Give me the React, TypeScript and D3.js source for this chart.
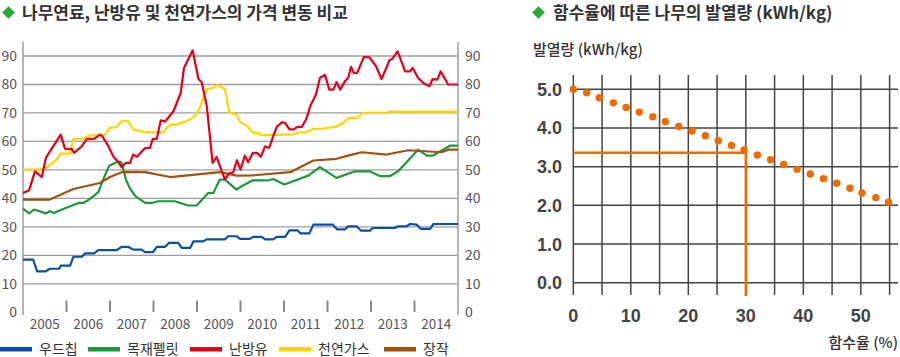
import React from "react";
import * as d3 from "d3";

// ---- Left chart data (x = months since Jan 2005) ----
const yearLabels = ["2005", "2006", "2007", "2008", "2009", "2010", "2011", "2012", "2013", "2014"];
const leftTicks = [0, 10, 20, 30, 40, 50, 60, 70, 80, 90];
const gridTicks = [10, 20, 30, 40, 50, 60, 70, 80, 90];

const woodChipX = [0, 2.8, 3.9, 6.3, 7.4, 10, 10.4, 13, 13.9, 16.2, 17.2, 19.6, 20.8, 25.8, 27.2, 29, 30.4, 32.7, 33.7, 35.9, 36.9, 39.2, 40.3, 42.8, 43.8, 46.1, 47, 49.7, 50.7, 55.7, 56.6, 59, 59.9, 62.6, 63.5, 65.8, 66.8, 69, 70, 72.3, 73.5, 75.7, 76.6, 79, 80.1, 85.4, 86.7, 88.8, 89.7, 92, 93.2, 95.7, 96.5, 102.6, 103.5, 105.8, 106.8, 108.6, 109.7, 112.3, 113.2, 120];
const woodChipY = [18.5, 18.5, 14.4, 14.4, 15.3, 15.3, 16.4, 16.4, 19.5, 19.5, 20.7, 20.7, 21.8, 21.8, 23, 23, 22, 22, 21.1, 21.1, 23, 23, 24.4, 24.4, 22.6, 22.6, 24.9, 24.9, 25.6, 25.6, 26.7, 26.7, 25.8, 25.8, 26.5, 26.5, 25.6, 25.6, 26.5, 26.5, 28.8, 28.8, 27.7, 27.7, 30.8, 30.8, 29.1, 29.1, 30.2, 30.2, 28.7, 28.7, 29.6, 29.6, 30.2, 30.2, 31, 30.8, 29.3, 29.3, 31, 31];

const pelletX = [0, 1.7, 3, 4.6, 6.3, 7.4, 8.5, 11.1, 15.3, 16.6, 18.5, 20.8, 22.1, 23.8, 25.8, 26.7, 27.2, 28.4, 29.5, 31, 33.7, 35.5, 37.3, 41.9, 45.6, 47.9, 51.1, 52.5, 54.3, 55.7, 58.9, 61.2, 63.3, 67.5, 69, 72.1, 78.7, 81.9, 86.5, 91.6, 95.7, 98.5, 101.1, 103.5, 109, 111.4, 113, 117.8, 120];
const pelletY = [36.4, 34.7, 36.1, 35.5, 34.7, 35.5, 34.9, 36.3, 38.4, 38.4, 39.8, 42.2, 46.6, 51.5, 52.7, 52.9, 52.5, 46.6, 43.5, 40.8, 38.4, 38.4, 39, 39, 37.5, 37.5, 41.9, 41.9, 46.6, 46.6, 43.1, 44.9, 46.3, 46.3, 46.8, 44.9, 48, 51, 47.2, 49.5, 49.5, 47.8, 47.8, 49.5, 57.1, 55, 55, 58.5, 58.5];

const oilX = [0, 1.7, 3.3, 5.2, 6.3, 10.4, 11.6, 13.4, 14.1, 16.2, 17.6, 19.6, 21.2, 21.9, 23.3, 24.9, 26.3, 27.2, 28.4, 29.5, 30.4, 31.4, 33.7, 35, 35.8, 36.9, 38, 39.2, 41.5, 43.5, 44.4, 46.8, 48.4, 49.3, 50.7, 52.3, 53.4, 55.7, 56.9, 58, 59, 60, 61.2, 62.1, 63.4, 64.5, 65.6, 66.8, 67.9, 69, 70, 71.4, 72.3, 73.5, 74.6, 75.7, 76.9, 78.1, 79.4, 80.8, 81.9, 83.3, 84.5, 85.6, 86.5, 87.5, 88.8, 89.7, 90.5, 91.2, 92.2, 94, 95.5, 97.4, 98.9, 101.1, 101.9, 103.3, 104.2, 105.4, 106.8, 107.5, 109, 110.4, 112.1, 113, 114.3, 115.2, 117.3, 120];
const oilY = [41.9, 42.9, 49.5, 47.5, 54.2, 62.4, 57.4, 57.4, 56, 58.3, 60.9, 60.9, 62.4, 61.8, 58.9, 54.8, 52.7, 51, 52.5, 52.5, 55.4, 54.6, 57.7, 57.7, 60.9, 60.9, 67.4, 67, 70.6, 77, 85.8, 92, 81.9, 80.8, 72.4, 52.5, 54.6, 46.6, 48.9, 49.1, 53.4, 50.1, 55, 52.7, 56, 56, 54.6, 58.3, 57.7, 61.8, 65.1, 66.7, 66.5, 64.2, 64.2, 65.1, 65.1, 67.7, 72.9, 76.4, 82.3, 83.4, 78.2, 78.2, 80.8, 78.2, 81.1, 82.3, 86.2, 84.1, 84.1, 89.6, 89.6, 86.4, 81.9, 88.5, 89, 91.6, 88.7, 84.6, 84.6, 85.8, 82.3, 80.5, 79.4, 81.9, 81.7, 84.6, 80, 80];

const gasX = [0, 4.6, 6.5, 7.9, 9.3, 10.4, 13, 13.9, 16.2, 18, 18.9, 22.6, 23.8, 25.8, 27.2, 29, 30.4, 31.4, 34.1, 38.7, 40.6, 42.4, 44.2, 46.1, 47.5, 48.8, 49.9, 50.8, 52.5, 53.6, 55.7, 56.9, 58.9, 59.9, 61.7, 63.5, 64.9, 65.8, 69, 74.6, 76.4, 78.3, 80.1, 82.9, 86.5, 88.3, 90, 92.2, 93.7, 100.3, 101.1, 120];
const gasY = [50.1, 50.1, 50.9, 52.2, 53.6, 55.7, 55.7, 60.9, 60.9, 61.8, 62.2, 62.2, 64.7, 65.1, 67.1, 67.1, 64.2, 63.9, 63.2, 63.2, 65.9, 65.9, 66.7, 67.7, 69.1, 71.8, 75.9, 78.4, 78.8, 79.9, 78.4, 70.2, 69.4, 66.8, 65.6, 63, 62.8, 62.1, 62.3, 62.5, 63.2, 63.3, 64.4, 64.5, 65.3, 66.5, 68.3, 68.3, 70, 70, 70.5, 70.5];

const firewoodX = [0, 7.4, 13.9, 21.2, 24, 27.2, 30.9, 33.7, 40.6, 54.3, 58.9, 63.5, 73.7, 80.1, 86.5, 90.2, 93.4, 100.3, 106.3, 115.5, 117.3, 120];
const firewoodY = [39.6, 39.6, 43.3, 45.4, 47.5, 49.2, 49.3, 49.2, 47.5, 49.2, 48, 48.1, 49.2, 53.3, 53.9, 55.2, 56.2, 55.4, 56.9, 56.2, 57.1, 57.1];

const seriesNames = ["우드칩", "목재펠릿", "난방유", "천연가스", "장작"];
const seriesColors = ["#0b4ea2", "#1e9639", "#e3001b", "#ffd400", "#a0500f"];

// ---- Right chart data ----
const moistureX = [0, 2.33, 4.52, 6.96, 9.17, 11.48, 13.81, 16.0, 18.33, 20.64, 22.96, 25.2, 27.5, 29.7, 32.0, 34.3, 36.6, 38.9, 41.2, 43.5, 45.8, 48.1, 50.2, 52.6, 54.8];
const heatY = [5.0, 4.91, 4.78, 4.65, 4.53, 4.41, 4.29, 4.16, 4.04, 3.92, 3.8, 3.67, 3.55, 3.43, 3.3, 3.18, 3.06, 2.93, 2.81, 2.69, 2.57, 2.44, 2.32, 2.2, 2.08];
const rightYTicks = [0, 1, 2, 3, 4, 5];
const rightXGrid = [0, 5, 10, 15, 20, 25, 30, 35, 40, 45, 50, 55];
const rightXLabels = [0, 10, 20, 30, 40, 50];
const refMoisture = 30;
const refHeat = 3.36;

const FONT = "'Noto Sans CJK KR', 'Noto Sans', sans-serif";
const NUMFONT = "'Liberation Sans', Arial, sans-serif";

export default function App() {
  const x = d3.scaleLinear().domain([0, 120]).range([23, 458]);
  const y = d3.scaleLinear().domain([0, 90]).range([312.3, 56]);

  const xr = d3.scaleLinear().domain([0, 55]).range([573.3, 889.6]);
  const yr = d3.scaleLinear().domain([0, 5]).range([282.7, 89.3]);

  const allSeries = [
    [woodChipX, woodChipY],
    [pelletX, pelletY],
    [oilX, oilY],
    [gasX, gasY],
    [firewoodX, firewoodY],
  ];
  const drawOrder = [1, 4, 3, 2, 0];

  const pathFor = (xs: number[], ys: number[]) =>
    d3
      .line<[number, number]>()
      .x((d) => x(d[0]))
      .y((d) => y(d[1]))(xs.map((v, i) => [v, ys[i]] as [number, number])) || "";

  const legendSwatchX = [0, 88, 190, 279, 384];

  return (
    <svg width={900} height={357} style={{ position: "absolute", left: 0, top: 0, fontFamily: FONT }}>
      <rect x={0} y={0} width={900} height={357} fill="#fff" />
      {/* Titles */}
      <rect x={4} y={8} width={9} height={9} fill="#2aa837" transform="rotate(45 8.5 12.5)" />
      <text x={22} y={19} fontSize={17} fontWeight={700} fill="#333">
        나무연료, 난방유 및 천연가스의 가격 변동 비교
      </text>
      <rect x={534} y={8} width={9} height={9} fill="#2aa837" transform="rotate(45 538.5 12.5)" />
      <text x={553} y={19} fontSize={17} fontWeight={700} fill="#333">
        함수율에 따른 나무의 발열량 (kWh/kg)
      </text>

      {/* Left chart grid */}
      {gridTicks.map((t) => (
        <line key={"g" + t} x1={x(0)} x2={x(120)} y1={y(t)} y2={y(t)} stroke="#9c9c9c" strokeWidth={1.3} />
      ))}
      <line x1={x(0)} x2={x(0)} y1={42} y2={315} stroke="#9c9c9c" strokeWidth={1.5} />
      <line x1={x(120)} x2={x(120)} y1={42} y2={315} stroke="#9c9c9c" strokeWidth={1.5} />
      {yearLabels.slice(1).map((_, i) => (
        <line key={"t" + i} x1={x((i + 1) * 12)} x2={x((i + 1) * 12)} y1={300.5} y2={312} stroke="#888" strokeWidth={2} />
      ))}
      {leftTicks.map((t) => (
        <g key={"l" + t}>
          <text x={17} y={y(t) + 5} fontSize={14} fill="#555" textAnchor="end">
            {t}
          </text>
          <text x={465} y={y(t) + 5} fontSize={14} fill="#555" textAnchor="start">
            {t}
          </text>
        </g>
      ))}
      {yearLabels.map((yl, i) => (
        <text key={yl} x={x(i * 12 + 6)} y={329} fontSize={13.5} fill="#555" textAnchor="middle">
          {yl}
        </text>
      ))}

      {/* Left chart lines */}
      {drawOrder.map((si) => (
        <path
          key={"s" + si}
          d={pathFor(allSeries[si][0], allSeries[si][1])}
          fill="none"
          stroke={seriesColors[si]}
          strokeWidth={2.2}
          strokeLinejoin="round"
        />
      ))}

      {/* Legend */}
      {seriesNames.map((n, i) => (
        <g key={n}>
          <rect x={legendSwatchX[i]} y={347} width={32} height={4.5} fill={seriesColors[i]} />
          <text x={legendSwatchX[i] + 39} y={354} fontSize={14} fill="#333">
            {n}
          </text>
        </g>
      ))}

      {/* Right chart */}
      <text x={533} y={55} fontSize={15} fill="#333" fontWeight={500}>
        발열량 (kWh/kg)
      </text>
      {rightXGrid.map((t) => (
        <line key={"vx" + t} x1={xr(t)} x2={xr(t)} y1={75} y2={295} stroke="#444" strokeWidth={1.5} />
      ))}
      {rightYTicks.map((t) => (
        <g key={"ry" + t}>
          <line x1={xr(0)} x2={898} y1={yr(t)} y2={yr(t)} stroke="#444" strokeWidth={1.5} />
          <text x={562} y={yr(t) + 6.5} fontSize={18} fontWeight={700} fill="#444" textAnchor="end" fontFamily={NUMFONT}>
            {t.toFixed(1)}
          </text>
        </g>
      ))}
      {rightXLabels.map((t) => (
        <text key={"rx" + t} x={xr(t)} y={322} fontSize={18} fontWeight={700} fill="#444" textAnchor="middle" fontFamily={NUMFONT}>
          {t}
        </text>
      ))}
      <text x={898} y={348} fontSize={15} fill="#333" textAnchor="end" fontWeight={500}>
        함수율 (%)
      </text>
      <line x1={xr(0)} x2={xr(refMoisture)} y1={yr(refHeat)} y2={yr(refHeat)} stroke="#ef6a00" strokeWidth={2.5} />
      <line x1={xr(refMoisture)} x2={xr(refMoisture)} y1={yr(refHeat) - 1.2} y2={296} stroke="#ef6a00" strokeWidth={2.5} />
      {moistureX.map((mx, i) => (
        <circle key={"d" + i} cx={xr(mx)} cy={yr(heatY[i])} r={3.7} fill="#ef6a00" />
      ))}
    </svg>
  );
}
